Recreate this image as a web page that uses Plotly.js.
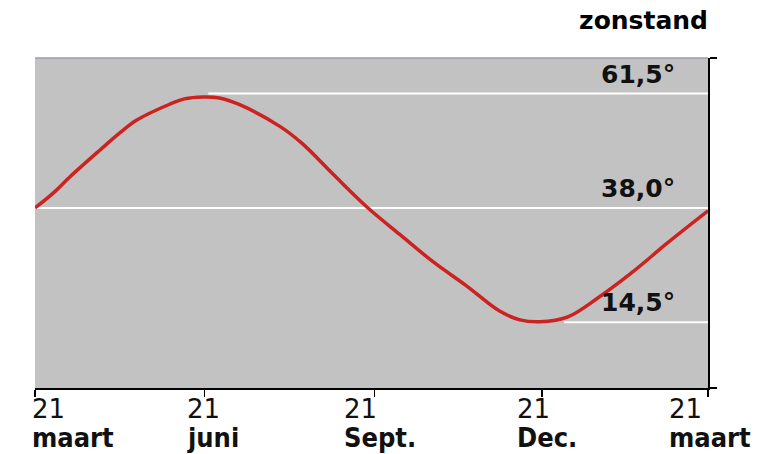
<!DOCTYPE html>
<html>
<head>
<meta charset="utf-8">
<script src="https://cdn.plot.ly/plotly-3.0.1.min.js"></script>
<style>html,body{margin:0;padding:0;background:#fff}#chart{width:758px;height:454px}</style>
</head>
<body>
<div id="chart"></div>
<script>
// days counted from 21 March
var curveDays = [0, 10, 19, 35, 46, 55, 73, 81, 91, 100, 111, 133, 145, 162, 180, 198, 216, 234, 252, 263, 274, 289, 306, 324, 343, 365];
var curveAlt  = [38.0, 41.1, 44.4, 49.8, 53.4, 56.0, 59.3, 60.4, 60.8, 60.6, 59.2, 54.7, 51.2, 44.8, 38.2, 32.5, 26.9, 22.0, 16.8, 15.0, 14.6, 15.6, 19.7, 24.8, 30.8, 37.4];

var tickDays   = [0, 92, 184, 275, 365];
var tickDayNum = ['21', '21', '21', '21', '21'];
var tickMonths = ['maart', 'juni', 'Sept.', 'Dec.', 'maart'];

var levelValues = [61.5, 38.0, 14.5];
var levelLabels = ['61,5°', '38,0°', '14,5°'];
var levelStart  = [94, 0, 287];
var dayEnd = 365;

var yMin = 1.0, yMax = 68.8;

var traces = [{
  x: curveDays, y: curveAlt, type: 'scatter', mode: 'lines',
  line: {color: '#cc2220', width: 3.5, shape: 'spline', smoothing: 1.0},
  hoverinfo: 'skip', showlegend: false
}];

var shapes = [];
levelValues.forEach(function (v, i) {
  shapes.push({type: 'line', xref: 'x', yref: 'y', x0: levelStart[i], x1: dayEnd, y0: v, y1: v,
    line: {color: '#ffffff', width: 2}, layer: 'below'});
});
// soft top border
shapes.push({type: 'line', xref: 'paper', yref: 'paper', x0: 0, x1: 1, y0: 1, y1: 1,
  line: {color: '#9c9cab', width: 1.5}});

var annotations = [];
var labelShift = [-5, -20, -32, -27, -41];
tickDays.forEach(function (d, i) {
  annotations.push({xref: 'x', yref: 'paper', x: d, y: 0, xanchor: 'left', yanchor: 'top',
    xshift: labelShift[i], yshift: -4, showarrow: false, align: 'left',
    text: tickDayNum[i], font: {family: 'DejaVu Sans', size: 26, color: '#111111'}});
  annotations.push({xref: 'x', yref: 'paper', x: d, y: 0, xanchor: 'left', yanchor: 'top',
    xshift: labelShift[i], yshift: -32, showarrow: false, align: 'left',
    text: '<b>' + tickMonths[i] + '</b>', font: {family: 'DejaVu Sans Condensed', size: 27, color: '#111111'}});
});
levelValues.forEach(function (v, i) {
  annotations.push({xref: 'x', yref: 'y', x: dayEnd, y: v, xanchor: 'right', yanchor: 'bottom',
    xshift: -31, yshift: 3, showarrow: false,
    text: '<b>' + levelLabels[i] + '</b>',
    font: {family: 'DejaVu Sans', size: 25, color: '#111111'}});
});

var layout = {
  width: 758, height: 454,
  margin: {l: 35, r: 50, t: 58, b: 66, pad: 0},
  paper_bgcolor: '#ffffff', plot_bgcolor: '#c2c2c2',
  title: {text: '<b>zonstand</b>', x: 708 / 758, xanchor: 'right', xref: 'container',
    y: 1 - 11 / 454, yanchor: 'top', yref: 'container',
    font: {family: 'DejaVu Sans', size: 25, color: '#000000'}},
  xaxis: {range: [0, dayEnd], showgrid: false, zeroline: false, showline: true,
    linecolor: '#000000', linewidth: 2, ticks: 'outside', ticklen: 7, tickwidth: 1.5,
    tickcolor: '#000000', tickvals: tickDays, showticklabels: false, fixedrange: true},
  yaxis: {range: [yMin, yMax], side: 'right', showgrid: false, zeroline: false, showline: true,
    linecolor: '#000000', linewidth: 2, ticks: 'outside', ticklen: 7, tickwidth: 1.5,
    tickcolor: '#000000', tickvals: [yMin, yMax], showticklabels: false, fixedrange: true},
  shapes: shapes, annotations: annotations, showlegend: false
};

Plotly.newPlot('chart', traces, layout, {displayModeBar: false, staticPlot: true});
</script>
</body>
</html>
